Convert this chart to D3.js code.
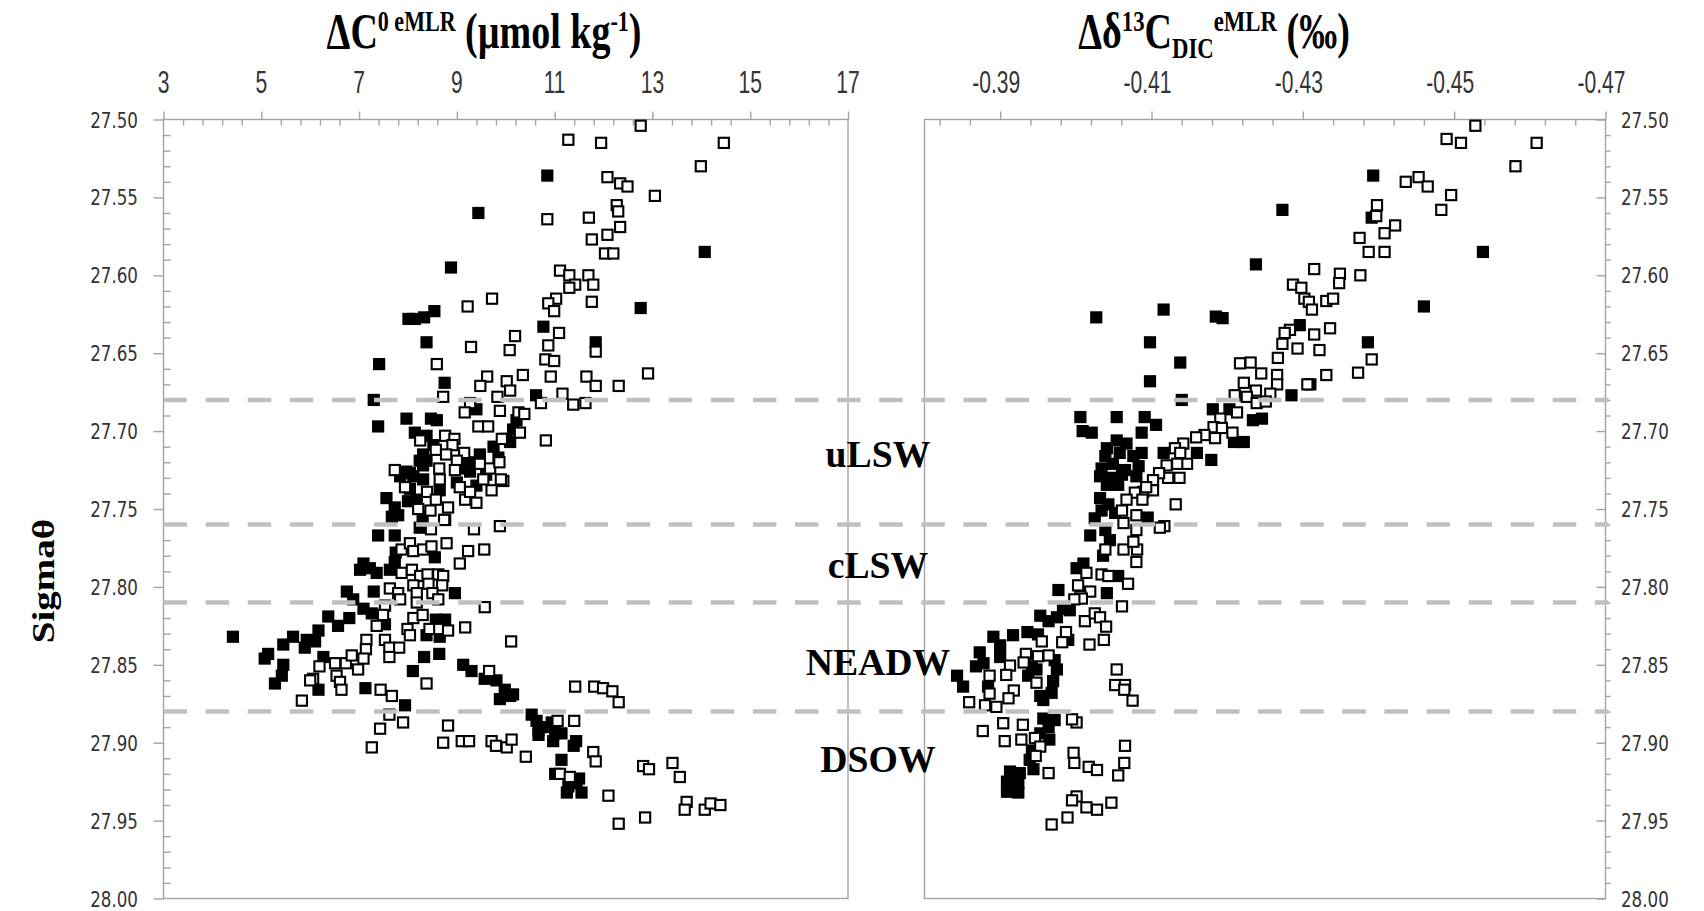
<!DOCTYPE html>
<html>
<head>
<meta charset="utf-8">
<script src="https://cdn.jsdelivr.net/npm/d3@7/dist/d3.min.js"></script>
<style>
  body { margin: 0; background: #fff; }
  svg { display: block; }
</style>
</head>
<body>
<svg id="chart" width="1704" height="911"></svg>
<script>
// ---- data: [value, sigma-theta] pairs ----
// Left panel: ΔC0 eMLR (µmol kg-1); open = one cruise group, filled = the other
const leftOpen = [
  [12.76,27.504],[11.28,27.513],[11.95,27.515],[14.46,27.515],[13.99,27.530],[12.08,27.537],[12.34,27.541],[12.49,27.543],
  [13.05,27.549],[12.27,27.555],[12.30,27.559],[10.85,27.564],[11.70,27.563],[12.34,27.569],[12.08,27.574],[11.76,27.577],
  [12.03,27.586],[12.20,27.586],[11.11,27.597],[11.30,27.600],[11.69,27.600],[11.42,27.606],[11.79,27.606],[11.30,27.608],
  [11.03,27.615],[10.87,27.618],[11.76,27.617],[10.99,27.623],[9.72,27.615],[9.22,27.620],[11.09,27.637],[10.19,27.639],
  [11.84,27.649],[9.29,27.646],[10.08,27.648],[10.87,27.645],[10.81,27.654],[10.99,27.655],[8.59,27.657],[9.62,27.665],
  [9.48,27.671],[10.02,27.668],[10.09,27.674],[10.35,27.664],[10.92,27.665],[11.65,27.665],[11.84,27.671],[12.31,27.671],
  [12.91,27.663],[8.72,27.678],[9.83,27.678],[11.16,27.676],[10.72,27.682],[11.38,27.683],[11.63,27.682],[9.27,27.682],
  [9.16,27.688],[9.88,27.687],[10.26,27.688],[10.38,27.689],[9.44,27.697],[9.64,27.697],[10.29,27.701],[9.92,27.705],
  [10.82,27.706],[8.76,27.703],[8.95,27.705],[8.25,27.706],[8.91,27.709],[8.57,27.712],[8.78,27.715],[9.15,27.714],
  [9.00,27.719],[7.73,27.725],[8.64,27.724],[8.96,27.725],[9.47,27.721],[9.68,27.724],[9.87,27.720],[9.95,27.732],
  [7.94,27.736],[8.21,27.750],[8.46,27.751],[8.39,27.739],[8.57,27.744],[8.65,27.731],[8.82,27.749],[8.76,27.757],
  [9.17,27.744],[9.40,27.746],[9.27,27.739],[9.06,27.736],[9.54,27.731],[9.71,27.738],[9.90,27.731],[7.87,27.776],
  [8.04,27.772],[8.11,27.777],[8.31,27.776],[8.48,27.774],[8.79,27.772],[9.23,27.777],[9.56,27.776],[9.06,27.785],
  [9.35,27.763],[9.88,27.761],[8.47,27.763],[8.74,27.757],[7.87,27.791],[8.08,27.789],[8.25,27.793],[8.40,27.792],
  [8.62,27.792],[8.72,27.793],[7.63,27.801],[8.11,27.799],[8.42,27.798],[8.70,27.799],[7.80,27.804],[8.18,27.804],
  [8.50,27.804],[7.53,27.812],[7.84,27.808],[8.18,27.810],[8.62,27.808],[9.57,27.813],[7.49,27.818],[7.36,27.825],
  [8.11,27.820],[8.30,27.818],[8.44,27.827],[8.64,27.827],[8.82,27.828],[7.99,27.827],[8.04,27.831],[9.17,27.826],
  [10.11,27.835],[7.15,27.834],[7.14,27.840],[7.53,27.834],[7.62,27.839],[7.82,27.839],[7.62,27.845],[8.38,27.862],
  [9.66,27.854],[11.42,27.864],[11.81,27.864],[6.19,27.851],[6.06,27.859],[6.00,27.860],[6.51,27.849],[6.54,27.857],
  [6.73,27.849],[6.85,27.844],[6.98,27.853],[7.09,27.846],[6.61,27.861],[6.64,27.866],[7.44,27.866],[7.67,27.870],
  [5.83,27.873],[7.62,27.882],[7.43,27.891],[7.90,27.887],[7.26,27.903],[8.82,27.889],[8.72,27.900],[9.10,27.899],
  [9.25,27.899],[9.71,27.899],[9.80,27.902],[10.02,27.903],[10.12,27.898],[10.41,27.909],[11.99,27.865],[12.18,27.867],
  [12.31,27.874],[11.06,27.886],[11.40,27.886],[11.79,27.906],[11.84,27.912],[11.11,27.920],[11.31,27.922],[12.10,27.934],
  [12.31,27.952],[12.85,27.948],[12.81,27.915],[12.93,27.917],[13.41,27.913],[13.56,27.922],[13.70,27.938],[13.66,27.943],
  [14.07,27.943],[14.19,27.939],[14.39,27.940]
];
const leftFilled = [
  [10.85,27.536],[9.44,27.560],[14.07,27.585],[8.88,27.595],[12.76,27.621],[8.54,27.623],[8.33,27.627],[8.14,27.628],
  [8.01,27.628],[10.77,27.633],[8.38,27.643],[11.84,27.643],[7.41,27.657],[8.75,27.669],[7.30,27.680],[10.62,27.677],
  [9.40,27.686],[7.97,27.692],[8.47,27.692],[8.59,27.693],[7.39,27.697],[10.22,27.693],[10.15,27.699],[10.09,27.707],
  [8.14,27.701],[8.38,27.703],[8.52,27.709],[8.31,27.715],[9.47,27.715],[8.38,27.719],[9.13,27.721],[7.97,27.726],
  [7.84,27.729],[8.04,27.737],[8.04,27.727],[8.24,27.719],[8.31,27.722],[9.20,27.724],[9.27,27.720],[9.27,27.726],
  [9.00,27.733],[9.60,27.728],[9.85,27.717],[10.00,27.705],[9.40,27.735],[8.00,27.745],[8.30,27.755],[9.75,27.710],
  [7.56,27.743],[7.73,27.749],[7.80,27.754],[7.67,27.755],[8.18,27.744],[8.31,27.731],[8.11,27.729],[8.65,27.738],
  [7.39,27.767],[7.73,27.767],[7.75,27.778],[7.73,27.784],[8.24,27.762],[8.55,27.781],[7.09,27.785],[7.02,27.789],
  [7.22,27.788],[7.36,27.791],[7.63,27.789],[8.96,27.804],[6.75,27.803],[7.30,27.803],[6.88,27.808],[7.09,27.814],
  [7.26,27.817],[6.37,27.819],[6.80,27.820],[6.57,27.825],[7.53,27.824],[8.57,27.821],[8.76,27.821],[8.38,27.831],
  [8.65,27.832],[4.42,27.832],[5.65,27.832],[6.17,27.828],[5.93,27.834],[6.10,27.835],[5.45,27.837],[5.89,27.839],
  [5.14,27.843],[5.07,27.846],[5.45,27.850],[5.42,27.857],[5.28,27.862],[8.33,27.845],[8.64,27.843],[8.10,27.854],
  [9.13,27.850],[9.30,27.854],[9.57,27.859],[9.81,27.860],[9.98,27.866],[10.15,27.869],[6.27,27.845],[7.13,27.865],
  [6.17,27.866],[7.94,27.876],[9.88,27.872],[10.09,27.870],[10.53,27.882],[10.63,27.886],[10.67,27.892],[10.67,27.895],
  [10.84,27.890],[10.94,27.887],[11.01,27.894],[10.97,27.899],[11.14,27.894],[11.44,27.899],[11.39,27.902],[11.14,27.911],
  [11.01,27.920],[11.40,27.925],[11.50,27.923],[11.28,27.928],[11.25,27.932],[11.55,27.932],[11.45,27.926]
];
// Right panel: Δδ13C_DIC eMLR (‰)
const rightOpen = [
  [-0.4528,27.504],[-0.4490,27.5125],[-0.4509,27.515],[-0.4609,27.515],[-0.4581,27.530],[-0.4436,27.540],[-0.4453,27.537],
  [-0.4465,27.543],[-0.4496,27.5485],[-0.4483,27.558],[-0.4398,27.555],[-0.4397,27.562],[-0.4422,27.568],[-0.4408,27.573],
  [-0.4375,27.576],[-0.4387,27.585],[-0.4408,27.585],[-0.4315,27.596],[-0.4349,27.599],[-0.4348,27.605],[-0.4376,27.600],
  [-0.4287,27.606],[-0.4298,27.608],[-0.4302,27.615],[-0.4308,27.617],[-0.4312,27.622],[-0.4331,27.6165],[-0.4340,27.615],
  [-0.4283,27.635],[-0.4315,27.638],[-0.4336,27.634],[-0.4293,27.647],[-0.4322,27.648],[-0.4391,27.654],[-0.4373,27.6625],
  [-0.4331,27.664],[-0.4306,27.670],[-0.4276,27.637],[-0.4273,27.644],[-0.4267,27.653],[-0.4217,27.6565],[-0.4231,27.656],
  [-0.4245,27.663],[-0.4266,27.664],[-0.4266,27.670],[-0.4222,27.669],[-0.4238,27.674],[-0.4257,27.676],[-0.4210,27.677],
  [-0.4226,27.678],[-0.4239,27.682],[-0.4251,27.681],[-0.4213,27.688],[-0.4191,27.692],[-0.4182,27.6975],[-0.4193,27.698],
  [-0.4207,27.701],[-0.4184,27.7045],[-0.4170,27.7025],[-0.4159,27.704],[-0.4142,27.708],[-0.4131,27.711],[-0.4138,27.714],
  [-0.4147,27.721],[-0.4134,27.721],[-0.4120,27.722],[-0.4137,27.730],[-0.4122,27.730],[-0.4110,27.727],[-0.4102,27.7315],
  [-0.4102,27.738],[-0.4089,27.739],[-0.4078,27.7395],[-0.4088,27.744],[-0.4067,27.744],[-0.4132,27.747],[-0.4061,27.751],
  [-0.4080,27.754],[-0.4117,27.761],[-0.4111,27.762],[-0.4093,27.736],[-0.4063,27.759],[-0.4080,27.7635],[-0.4039,27.776],
  [-0.4063,27.776],[-0.4081,27.776],[-0.4076,27.771],[-0.4080,27.784],[-0.4014,27.791],[-0.4034,27.792],[-0.4043,27.793],
  [-0.4069,27.798],[-0.4003,27.799],[-0.4019,27.803],[-0.4006,27.806],[-0.4008,27.8075],[-0.3998,27.808],[-0.4061,27.8125],
  [-0.4012,27.822],[-0.4025,27.817],[-0.4032,27.8195],[-0.4040,27.8255],[-0.4037,27.834],[-0.4018,27.837],[-0.3987,27.829],
  [-0.3982,27.8355],[-0.3955,27.835],[-0.3934,27.843],[-0.3950,27.8445],[-0.3964,27.844],[-0.3913,27.8505],[-0.3931,27.8485],
  [-0.3908,27.8565],[-0.3886,27.857],[-0.3948,27.8615],[-0.3886,27.8685],[-0.3918,27.8665],[-0.3911,27.8715],[-0.3859,27.874],
  [-0.3880,27.876],[-0.3895,27.877],[-0.4054,27.853],[-0.4052,27.863],[-0.4065,27.863],[-0.4064,27.866],[-0.4075,27.873],
  [-0.4001,27.887],[-0.3995,27.885],[-0.3877,27.8925],[-0.3904,27.8875],[-0.3930,27.8885],[-0.3946,27.897],[-0.3928,27.898],
  [-0.3906,27.899],[-0.3953,27.9025],[-0.3947,27.9085],[-0.3964,27.9195],[-0.3997,27.9065],[-0.3998,27.913],[-0.4017,27.9155],
  [-0.4028,27.9175],[-0.4065,27.902],[-0.4064,27.913],[-0.4056,27.921],[-0.4001,27.9345],[-0.3995,27.937],[-0.4014,27.9415],
  [-0.4028,27.943],[-0.4047,27.9385],[-0.3989,27.948],[-0.3968,27.9525]
];
const rightFilled = [
  [-0.4393,27.536],[-0.4391,27.563],[-0.4538,27.585],[-0.4460,27.620],[-0.4296,27.632],[-0.4386,27.643],[-0.4310,27.670],
  [-0.4285,27.677],[-0.4273,27.558],[-0.4238,27.593],[-0.4027,27.627],[-0.4116,27.622],[-0.4185,27.6265],[-0.4194,27.6275],
  [-0.4098,27.643],[-0.4138,27.656],[-0.4098,27.668],[-0.4140,27.680],[-0.4181,27.686],[-0.4203,27.686],[-0.4234,27.693],
  [-0.4246,27.692],[-0.4209,27.707],[-0.4222,27.707],[-0.4160,27.714],[-0.4179,27.7185],[-0.4116,27.714],[-0.4006,27.691],
  [-0.4054,27.691],[-0.4091,27.691],[-0.4106,27.696],[-0.4009,27.700],[-0.4021,27.701],[-0.4087,27.701],[-0.4054,27.706],
  [-0.4041,27.711],[-0.4067,27.708],[-0.4039,27.716],[-0.4058,27.714],[-0.4076,27.716],[-0.4087,27.714],[-0.4034,27.724],
  [-0.4049,27.721],[-0.4065,27.725],[-0.4083,27.7225],[-0.4032,27.729],[-0.4047,27.730],[-0.4061,27.728],[-0.4080,27.729],
  [-0.4041,27.7345],[-0.4056,27.7345],[-0.4032,27.743],[-0.4043,27.747],[-0.4034,27.751],[-0.4025,27.756],[-0.4052,27.7525],
  [-0.4095,27.7555],[-0.4019,27.767],[-0.4039,27.7635],[-0.4045,27.770],[-0.4010,27.785],[-0.4001,27.788],[-0.4036,27.780],
  [-0.4056,27.793],[-0.3977,27.802],[-0.4041,27.804],[-0.3953,27.8185],[-0.3964,27.822],[-0.3975,27.8195],[-0.3983,27.814],
  [-0.3992,27.815],[-0.3990,27.834],[-0.3936,27.829],[-0.3917,27.831],[-0.3891,27.832],[-0.3950,27.8305],[-0.3900,27.8375],
  [-0.3873,27.842],[-0.3900,27.845],[-0.3972,27.847],[-0.3868,27.851],[-0.3878,27.849],[-0.3948,27.853],[-0.3975,27.853],
  [-0.3843,27.857],[-0.3851,27.864],[-0.3884,27.864],[-0.3970,27.8605],[-0.3953,27.870],[-0.3968,27.868],[-0.3942,27.851],
  [-0.3937,27.857],[-0.3957,27.8726],[-0.3957,27.8845],[-0.3972,27.8855],[-0.3964,27.890],[-0.3953,27.894],[-0.3965,27.898],
  [-0.3942,27.905],[-0.3939,27.911],[-0.3944,27.917],[-0.3913,27.9185],[-0.3926,27.9195],[-0.3909,27.925],[-0.3924,27.926],
  [-0.3909,27.9315],[-0.3924,27.932]
];

// axis ticks
const leftTicks = [3, 5, 7, 9, 11, 13, 15, 17];
const rightTicks = [-0.39, -0.41, -0.43, -0.45, -0.47];
const sigmaTicks = [27.50, 27.55, 27.60, 27.65, 27.70, 27.75, 27.80, 27.85, 27.90, 27.95, 28.00];

// water-mass boundaries and names
const layerBounds = [27.68, 27.76, 27.81, 27.88];
const layerNames = ["uLSW", "cLSW", "NEADW", "DSOW"];
const layerNameSigma = [27.723, 27.794, 27.8565, 27.919];

// ---- layout ----
const svg = d3.select("#chart");
const AXIS = "#a3a3a3";
const TICKTXT = "#333";

const y = d3.scaleLinear().domain([27.5, 28.0]).range([119.5, 898.5]);
const xL = d3.scaleLinear().domain([3, 17]).range([163.5, 848]);
const xR = d3.scaleLinear().domain([-0.38, -0.47]).range([924.5, 1605.5]);

svg.append("rect").attr("width", 1704).attr("height", 911).attr("fill", "#fff");

// panel frames
function frame(x0, x1) {
  const [y0, y1] = y.range();
  svg.append("rect")
    .attr("x", x0).attr("y", y0).attr("width", x1 - x0).attr("height", y1 - y0)
    .attr("fill", "none").attr("stroke", AXIS).attr("stroke-width", 1.4);
}
frame(xL.range()[0], xL.range()[1]);
frame(xR.range()[0], xR.range()[1]);

function styleAxis(g) {
  g.select(".domain").remove();
  g.selectAll("line").attr("stroke", AXIS).attr("stroke-width", 1.4);
  g.selectAll("text").remove();
}

// top axes: major ticks outward, minor ticks inward
const leftMinor = d3.range(0, 36).map(i => 3 + i * 0.4).filter((v, i) => i % 5 !== 0);
svg.append("g").attr("transform", `translate(0,${y.range()[0]})`)
  .call(d3.axisTop(xL).tickValues(leftTicks).tickSize(8)).call(styleAxis);
svg.append("g").attr("transform", `translate(0,${y.range()[0]})`)
  .call(d3.axisTop(xL).tickValues(leftMinor).tickSize(-6)).call(styleAxis);

const rightMinor = d3.range(0, 23).map(i => -0.47 + i * 0.004).filter((v, i) => i % 5 !== 0);
svg.append("g").attr("transform", `translate(0,${y.range()[0]})`)
  .call(d3.axisTop(xR).tickValues(rightTicks).tickSize(8)).call(styleAxis);
svg.append("g").attr("transform", `translate(0,${y.range()[0]})`)
  .call(d3.axisTop(xR).tickValues(rightMinor).tickSize(-6)).call(styleAxis);

// side axes
const sigmaMinor = d3.range(0, 51).map(i => 27.5 + i * 0.01).filter((v, i) => i % 5 !== 0);
svg.append("g").attr("transform", `translate(${xL.range()[0]},0)`)
  .call(d3.axisLeft(y).tickValues(sigmaTicks).tickSize(10)).call(styleAxis);
svg.append("g").attr("transform", `translate(${xL.range()[0]},0)`)
  .call(d3.axisLeft(y).tickValues(sigmaMinor).tickSize(-7)).call(styleAxis);
svg.append("g").attr("transform", `translate(${xR.range()[1]},0)`)
  .call(d3.axisRight(y).tickValues(sigmaTicks).tickSize(-9)).call(styleAxis);
svg.append("g").attr("transform", `translate(${xR.range()[1]},0)`)
  .call(d3.axisRight(y).tickValues(sigmaMinor).tickSize(5)).call(styleAxis);

// tick labels (condensed)
function label(x, yy, txt, opts) {
  return svg.append("text")
    .attr("transform", `translate(${x},${yy}) scale(${opts.sx || 1},1)`)
    .attr("text-anchor", opts.anchor || "middle")
    .attr("font-family", opts.family)
    .attr("font-size", opts.size)
    .attr("font-weight", opts.weight || "normal")
    .attr("fill", opts.fill || "#000")
    .text(txt);
}
const topTickOpts = { family: "Liberation Sans, Arial, sans-serif", size: 31, sx: 0.68, fill: TICKTXT };
leftTicks.forEach(v => label(xL(v), 93, d3.format("d")(v), topTickOpts));
rightTicks.forEach(v => label(xR(v) - 4, 93, d3.format(".2f")(v).replace("−", "-"), topTickOpts));

const sideTickOpts = { family: "DejaVu Sans, Verdana, sans-serif", size: 22, sx: 0.76, fill: TICKTXT };
sigmaTicks.forEach(v => {
  label(138, y(v) + 8, d3.format(".2f")(v), Object.assign({ anchor: "end" }, sideTickOpts));
  label(1621, y(v) + 8, d3.format(".2f")(v), Object.assign({ anchor: "start" }, sideTickOpts));
});

// markers: filled series first, open series on top
const S_FILL = 12.2, S_OPEN = 10.2;
function drawFilled(data, xs) {
  svg.append("g").selectAll("rect").data(data).join("rect")
    .attr("x", d => xs(d[0]) - S_FILL / 2).attr("y", d => y(d[1]) - S_FILL / 2)
    .attr("width", S_FILL).attr("height", S_FILL).attr("fill", "#000");
}
function drawOpen(data, xs) {
  svg.append("g").selectAll("rect").data(data).join("rect")
    .attr("x", d => xs(d[0]) - S_OPEN / 2).attr("y", d => y(d[1]) - S_OPEN / 2)
    .attr("width", S_OPEN).attr("height", S_OPEN)
    .attr("fill", "#fff").attr("stroke", "#000").attr("stroke-width", 2.1);
}
drawFilled(leftFilled, xL);
drawOpen(leftOpen, xL);
drawFilled(rightFilled, xR);
drawOpen(rightOpen, xR);

// water-mass boundaries across both panels
svg.append("g").selectAll("line").data(layerBounds).join("line")
  .attr("x1", xL.range()[0]).attr("x2", xR.range()[1] + 3)
  .attr("y1", d => y(d)).attr("y2", d => y(d))
  .attr("stroke", "#c0c0c0").attr("stroke-width", 4.5)
  .attr("stroke-dasharray", "23.5 18.6");

// water-mass names
layerNames.forEach((n, i) => {
  label(878, y(layerNameSigma[i]), n,
    { family: "Liberation Serif, Times New Roman, serif", size: 38.5, weight: "bold", sx: 0.98 });
});

// titles
function title(cx, parts) {
  const t = svg.append("text")
    .attr("transform", `translate(${cx},48) scale(0.76,1)`)
    .attr("text-anchor", "middle")
    .attr("font-family", "Liberation Serif, Times New Roman, serif")
    .attr("font-weight", "bold").attr("font-size", 50).attr("fill", "#000");
  parts.forEach(p => {
    const s = t.append("tspan").text(p.t);
    if (p.dy) s.attr("dy", p.dy);
    if (p.size) s.attr("font-size", p.size);
  });
}
title(484, [
  { t: "ΔC" },
  { t: "0 eMLR", dy: -17, size: 29 },
  { t: " (µmol kg", dy: 17 },
  { t: "-1", dy: -17, size: 29 },
  { t: ")", dy: 17 }
]);
title(1214, [
  { t: "Δδ" },
  { t: "13", dy: -17, size: 30 },
  { t: "C", dy: 17 },
  { t: "DIC", dy: 10, size: 30 },
  { t: "eMLR", dy: -27, size: 30 },
  { t: " (‰)", dy: 17 }
]);

// vertical axis title
svg.append("text")
  .attr("transform", `translate(54,581) rotate(-90) scale(1,0.8)`)
  .attr("text-anchor", "middle")
  .attr("font-family", "Liberation Serif, Times New Roman, serif")
  .attr("font-weight", "bold").attr("font-size", 39).attr("fill", "#000")
  .text("Sigmaθ");
</script>
</body>
</html>
